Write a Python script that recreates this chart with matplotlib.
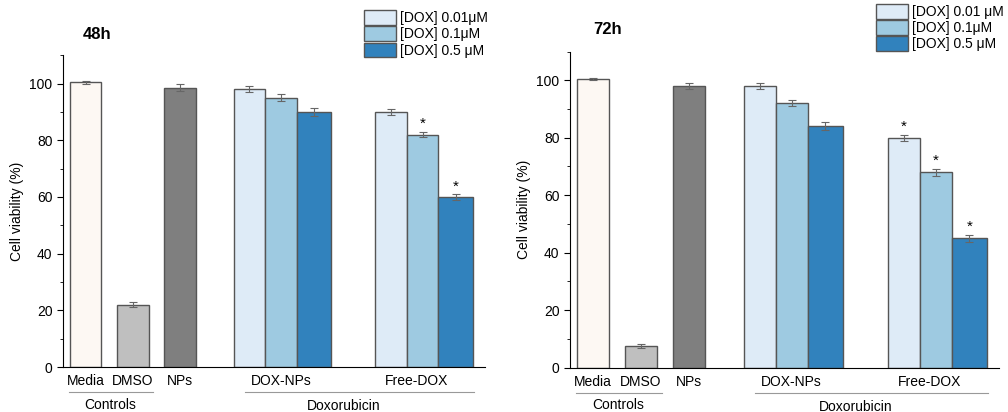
import matplotlib
matplotlib.use('Agg')
from matplotlib import pyplot as plt
from matplotlib.patches import Patch

plt.rcParams['font.family'] = ['Liberation Sans', 'DejaVu Sans']

# bar layout (in bar-width units) and categories
positions = [0, 1.5, 3.0, 5.2, 6.2, 7.25, 9.7, 10.7, 11.75]
widths = [1.0, 1.0, 1.0, 1.0, 1.0, 1.1, 1.0, 1.0, 1.1]
colors = ['#fdf8f3', '#bfbfbf', '#7f7f7f',
          '#deebf7', '#9ecae1', '#3182bd',
          '#deebf7', '#9ecae1', '#3182bd']

# data
vals_48 = [100.5, 22.0, 98.5, 98.0, 95.0, 90.0, 90.0, 82.0, 60.0]
errs_48 = [0.5, 0.8, 1.2, 1.0, 1.2, 1.3, 1.0, 1.0, 1.0]
star_48 = [False, False, False, False, False, False, False, True, True]

vals_72 = [100.5, 7.5, 98.0, 98.0, 92.0, 84.0, 80.0, 68.0, 45.0]
errs_72 = [0.4, 0.6, 1.2, 1.2, 1.0, 1.3, 1.0, 1.2, 1.2]
star_72 = [False, False, False, False, False, False, True, True, True]

cat_labels = ['Media', 'DMSO', 'NPs', 'DOX-NPs', 'Free-DOX']
cat_x = [0, 1.5, 3.0, 6.2, 10.5]

legend_48 = ['[DOX] 0.01\u03bcM', '[DOX] 0.1\u03bcM', '[DOX] 0.5 \u03bcM']
legend_72 = ['[DOX] 0.01 \u03bcM', '[DOX] 0.1\u03bcM', '[DOX] 0.5 \u03bcM']


def draw(ax, vals, errs, stars, title, title_xy):
    ax.bar(positions, vals, width=widths, color=colors, edgecolor='#555555',
           linewidth=1.0, zorder=2)
    ax.errorbar(positions, vals, yerr=errs, fmt='none', ecolor='#666666',
                elinewidth=0.8, capsize=3, capthick=0.8, zorder=3)
    for x, v, e, s in zip(positions, vals, errs, stars):
        if s:
            ax.text(x, v + e + 0.3, '*', ha='center', va='bottom', fontsize=11)
    ax.set_ylim(0, 110)
    ax.set_xlim(-0.72, 12.68)
    ax.set_yticks([0, 20, 40, 60, 80, 100])
    ax.set_yticks([10, 30, 50, 70, 90, 110], minor=True)
    ax.tick_params(axis='y', which='major', labelsize=10, length=4, direction='out')
    ax.tick_params(axis='y', which='minor', length=2.5)
    ax.set_xticks([])
    ax.spines['top'].set_visible(False)
    ax.spines['right'].set_visible(False)
    ax.set_ylabel('Cell viability (%)', fontsize=10)
    ax.text(title_xy[0], title_xy[1], title, transform=ax.transAxes, fontsize=12,
            fontweight='bold', ha='left', va='center')

    tr = ax.get_xaxis_transform()
    for lab, x in zip(cat_labels, cat_x):
        ax.text(x, -0.045, lab, transform=tr, ha='center', va='center', fontsize=10)
    ax.plot([-0.53, 2.15], [-0.08, -0.08], transform=tr, color='#999999',
            lw=0.8, clip_on=False)
    ax.plot([5.05, 12.32], [-0.08, -0.08], transform=tr, color='#999999',
            lw=0.8, clip_on=False)
    ax.text(0.78, -0.12, 'Controls', transform=tr, ha='center', va='center', fontsize=10)
    ax.text(8.2, -0.125, 'Doxorubicin', transform=tr, ha='center', va='center', fontsize=10)


fig = plt.figure(figsize=(10.08, 4.12), dpi=100)
ax1 = fig.add_axes([0.0625, 0.109, 0.4187, 0.757])
ax2 = fig.add_axes([0.5655, 0.108, 0.4256, 0.767])

draw(ax1, vals_48, errs_48, star_48, '48h', (0.047, 1.067))
draw(ax2, vals_72, errs_72, star_72, '72h', (0.054, 1.071))

for labels, anchor in [(legend_48, (0.361, 0.975)), (legend_72, (0.869, 0.99))]:
    handles = [Patch(facecolor=c, edgecolor='#555555', linewidth=1.0)
               for c in colors[3:6]]
    fig.legend(handles, labels, loc='upper left', bbox_to_anchor=anchor,
               frameon=False, fontsize=10, handlelength=2.3, handleheight=1.25,
               labelspacing=0.08, handletextpad=0.3, borderpad=0.0,
               borderaxespad=0)

fig.savefig('out.png', dpi=100)
